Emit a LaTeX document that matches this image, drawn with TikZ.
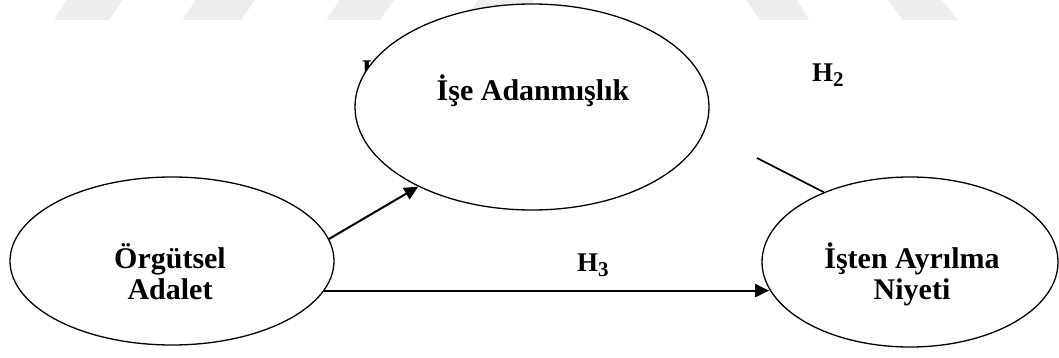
\documentclass[tikz,border=0pt]{standalone}
\usepackage{fontspec}
\setmainfont{Liberation Serif}
\usepackage{tikz}
\usetikzlibrary{arrows.meta, shapes.geometric}
\usepackage{xcolor}
\definecolor{wmgray}{RGB}{238, 238, 238}

\newcommand{\hyplabel}[1]{H\raisebox{-5pt}{\fontsize{21}{21}\selectfont #1}}

\begin{document}
\begin{tikzpicture}[x=1pt, y=-1pt,
  varbox/.style={ellipse, draw=black, line width=1.3pt, fill=white, inner sep=0pt},
  vartext/.style={align=center, inner sep=0pt, font=\fontsize{30}{31}\selectfont\bfseries},
  hlabel/.style={anchor=base west, inner sep=0pt, font=\fontsize{27}{27}\selectfont\bfseries},
  arr/.style={-{Triangle[length=14pt, width=13pt]}, line width=2pt},
  wmark/.style={fill=wmgray, draw=none}
]
\useasboundingbox (0,0) rectangle (1059,358);

% faint watermark at the top
\fill[wmark] (67,0) -- (123,0) -- (109,20) -- (54,20) -- cycle;
\fill[wmark] (196,0) -- (255,0) -- (241,20) -- (182,20) -- cycle;
\fill[wmark] (340,0) -- (394,0) -- (380,20) -- (326,20) -- cycle;
\fill[wmark] (478,0) -- (534,0) -- (520,20) -- (464,20) -- cycle;
\fill[wmark] (746,0) -- (797,0) -- (809,20) -- (760,20) -- cycle;
\fill[wmark] (888,0) -- (942,0) -- (958,20) -- (903,20) -- cycle;

\node[hlabel] (h1) at (362,79) {\hyplabel{1}};

\node[varbox, minimum width=354pt, minimum height=206pt] (adan)  at (532,107) {};
\node[varbox, minimum width=324pt, minimum height=168pt] (orgut) at (172,261) {};
\node[varbox, minimum width=296pt, minimum height=170pt] (ayril) at (910,262) {};

\node[vartext] (adantxt)  at (533,91)  {İşe Adanmışlık};
\node[vartext] (orguttxt) at (170,272) {Örgütsel\\Adalet};
\node[vartext] (ayriltxt) at (912,274) {İşten Ayrılma\\Niyeti};

\node[hlabel] (h2) at (812,82)  {\hyplabel{2}};
\node[hlabel] (h3) at (577,271) {\hyplabel{3}};

\draw[arr] (orgut.8.5) -- (adan.215.8);
\draw[arr] (orgut.-11.7) -- (orgut.-11.7 -| ayril.191.9);

\coordinate (segstart) at (757,158);
\draw[line width=1.7pt] (segstart) -- (ayril.141.9);

\end{tikzpicture}
\end{document}
